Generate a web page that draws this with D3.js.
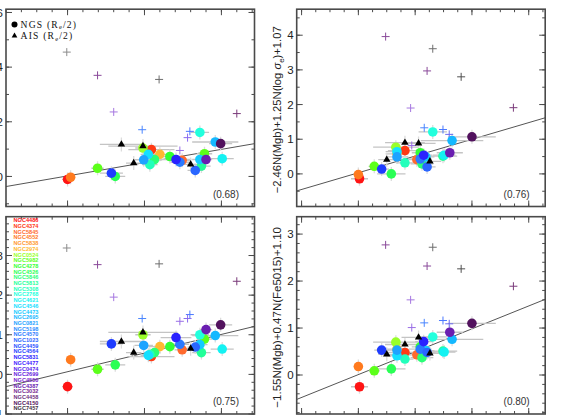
<!DOCTYPE html>
<html><head><meta charset="utf-8">
<script src="https://cdn.jsdelivr.net/npm/d3@7"></script>
<style>body{margin:0;background:#fff}svg{display:block}</style>
</head><body>
<svg id="c" width="581" height="415"></svg>
<script>
// ---------------- DATA ----------------
const names = ["NGC4486","NGC4374","NGC5845","NGC4552","NGC5838","NGC2974","NGC0524","NGC5982","NGC4278","NGC4526","NGC5846","NGC5813","NGC5308","NGC2768","NGC4621","NGC4546","NGC4473","NGC2695","NGC0821","NGC5198","NGC4570","NGC1023","NGC4459","NGC4564","NGC5831","NGC4477","NGC0474","NGC2699","NGC4550","NGC4387","NGC3032","NGC4458","NGC4150","NGC7457"];

// left column (shared x) : NGS circles
const leftCircX    = [0.00,0.04,0.39,0.57,0.62,0.98,1.09,1.05,0.99,1.07,1.13,1.20,1.33,1.41,1.49,1.46,1.72,1.72,1.78,1.80,1.74,1.66,1.92,1.99,2.01];
const leftCircXErr = [0.07,0.05,0.08,0.15,0.13,0.10,0.30,0.10,0.12,0.10,0.08,0.15,0.12,0.20,0.10,0.12,0.12,0.10,0.10,0.08,0.12,0.10,0.30,0.15,0.15];
const leftCircGal  = [0,3,7,23,9,6,1,15,18,12,10,5,8,24,2,20,13,16,7,29,11,21,17,32,14];
const tlCircY      = [-0.11,-0.03,0.30,0.12,0.00,1.04,0.98,0.81,0.61,0.43,0.62,0.81,0.73,0.62,0.59,0.52,1.61,0.62,0.83,0.62,0.38,0.22,1.26,1.20,0.65];
const blCircY      = [-0.31,0.37,0.13,0.77,0.24,1.00,0.45,0.48,0.73,0.50,0.55,0.70,0.70,0.93,0.62,0.76,1.00,0.75,0.89,1.13,0.55,0.69,0.98,1.25,0.64];
// left column : AIS triangles
const leftTriX     = [0.70,0.98,0.86,1.60];
const leftTriXErr  = [0.28,0.45,0.10,0.15];
const tlTriY       = [1.17,1.11,0.49,0.44];
const blTriY       = [0.83,1.06,0.55,0.65];
// left column : crosses
const leftCrossX   = [-0.01,0.39,0.60,1.19,0.97,1.46,1.59,1.56,2.20];
const tlCrossY     = [4.55,3.70,2.36,3.55,1.71,0.95,1.65,1.42,2.30];
const blCrossY     = [3.19,2.77,1.95,2.79,1.41,1.34,1.51,1.41,2.35];

// right column (shared x) : NGS circles
const rightCircX    = [0.00,0.02,0.28,0.41,0.58,0.66,0.68,0.68,0.82,0.82,1.03,1.09,1.09,1.15,1.19,1.12,1.21,1.31,1.49,1.51,1.65,1.61,2.00,0.68];
const rightCircXErr = [0.08,0.15,0.10,0.13,0.25,0.40,0.20,0.20,0.30,0.15,0.15,0.15,0.20,0.15,0.15,0.20,0.15,0.25,0.25,0.20,0.55,0.23,0.42,0.20];
const rightCircGal  = [3,0,7,23,9,6,18,15,1,12,2,8,20,24,16,10,21,13,11,14,17,29,32,5];
const trCircY       = [-0.02,-0.14,0.22,0.14,0.00,0.77,0.49,0.64,0.67,0.32,0.41,0.61,0.43,0.54,0.49,0.29,0.20,1.21,0.51,0.54,0.96,0.61,1.07,0.58];
const brCircY       = [0.18,-0.25,0.09,0.53,0.13,0.70,0.53,0.41,0.48,0.34,0.43,0.60,0.55,0.71,0.52,0.37,0.48,0.81,0.51,0.49,0.76,0.91,1.10,0.55];
// right column : AIS triangles
const rightTriX     = [0.50,0.82,1.06,1.26];
const rightTriXErr  = [0.15,0.35,0.30,0.20];
const trTriY        = [0.41,0.90,0.88,0.36];
const brTriY        = [0.44,0.65,0.80,0.46];
// right column : crosses
const rightCrossX   = [0.48,1.31,1.21,1.81,0.92,2.73,1.16,1.49,1.60,0.94];
const trCrossY      = [3.96,3.61,2.97,2.80,1.90,1.91,1.33,1.28,1.14,0.82];
const brCrossY      = [2.77,2.72,2.32,2.26,1.60,1.89,1.11,1.16,1.09,1.01];

// fitted lines (slope, intercept) and correlation labels: TL, TR, BL, BR
const fitSlope     = [0.486,0.482,0.471,0.487];
const fitIntercept = [0.019,0.033,0.067,0.009];
const corrLabels   = ["(0.68)","(0.76)","(0.75)","(0.80)"];

// tick values
const leftXMajor  = [0,1,2];
const rightXMajor = [-1,0,1,2,3];
const tlYMajor = [0,2,4,6];
const trYMajor = [0,1,2,3,4];
const blYMajor = [-1,0,1,2,3];
const brYMajor = [0,1,2,3];

// ---------------- STYLE ----------------
const galColors = ["#ff1414","#ff3a14","#ff6a2e","#ff7a1e","#ff9a30","#ffb830","#99ff2a","#5cff1a","#33ff33","#2aff55","#2aff77","#22ff99","#22ffbb","#22ffdd","#14f2f2","#14e0ff","#14cbff","#14b8ff","#1ea3ff","#2a8fff","#2a7aff","#2a66ff","#2a52ff","#1e3cff","#2a22ff","#4422ff","#5522ee","#6622dd","#7722cc","#6a1eb0","#772a91","#70307f","#52125e","#40303f"];
const leftCrossCol  = ["#8c8c8c","#8a4a9a","#a678e0","#6e6e6e","#4a86ff","#9a6ee6","#4a78ff","#8a6af0","#7a3a7a"];
const rightCrossCol = ["#8a4a9a","#6e6e6e","#8a4a9a","#505050","#a678e0","#7a3a7a","#4a86ff","#4a78ff","#6a6af0","#9a6ee6"];

const PW = 248.5, PH = 197.3;
const frameCol = "#4a4a4a";
const FONT = "'Liberation Sans', Arial, sans-serif";

const svg = d3.select("#c");

const panels = [
  {x0:6,     y0:9.2,   xd:[-0.8,2.43],   yd:[-1.1,6.12], xMaj:leftXMajor,  xMinStep:0.2,  yMaj:tlYMajor, yMinStep:1,
   cx:leftCircX, cxe:leftCircXErr, cg:leftCircGal, cy:tlCircY, tx:leftTriX, txe:leftTriXErr, ty:tlTriY,
   kx:leftCrossX, ky:tlCrossY, kc:leftCrossCol, fi:0, legend:true},
  {x0:296.7, y0:9.2,   xd:[-1.086,3.29], yd:[-0.94,4.75], xMaj:rightXMajor, xMinStep:0.25, yMaj:trYMajor, yMinStep:0.5,
   cx:rightCircX, cxe:rightCircXErr, cg:rightCircGal, cy:trCircY, tx:rightTriX, txe:rightTriXErr, ty:trTriY,
   kx:rightCrossX, ky:trCrossY, kc:rightCrossCol, fi:1, tsize:11.2,
   title:[["−2.46N(Mgb)+1.25N(log ",null],["σ","it"],["e","sub"],[")+1.07","up"]]},
  {x0:6,     y0:216.7, xd:[-0.8,2.43],   yd:[-1.0,3.98], xMaj:leftXMajor,  xMinStep:0.2,  yMaj:blYMajor, yMinStep:0.2,
   cx:leftCircX, cxe:leftCircXErr, cg:leftCircGal, cy:blCircY, tx:leftTriX, txe:leftTriXErr, ty:blTriY,
   kx:leftCrossX, ky:blCrossY, kc:leftCrossCol, fi:2, names:true},
  {x0:296.7, y0:216.7, xd:[-1.086,3.29], yd:[-0.83,3.37], xMaj:rightXMajor, xMinStep:0.25, yMaj:brYMajor, yMinStep:0.2,
   cx:rightCircX, cxe:rightCircXErr, cg:rightCircGal, cy:brCircY, tx:rightTriX, txe:rightTriXErr, ty:brTriY,
   kx:rightCrossX, ky:brCrossY, kc:rightCrossCol, fi:3, tsize:11.5,
   title:[["−1.55N(Mgb)+0.47N(Fe5015)+1.10",null]]}
];

panels.forEach((p, pi) => {
  const g = svg.append("g").attr("transform", `translate(${p.x0},${p.y0})`);
  const xs = d3.scaleLinear().domain(p.xd).range([0, PW]);
  const ys = d3.scaleLinear().domain(p.yd).range([PH, 0]);
  const clipId = "clip" + pi;
  g.append("clipPath").attr("id", clipId).append("rect").attr("width", PW).attr("height", PH);
  const inner = g.append("g").attr("clip-path", `url(#${clipId})`);

  // fit line
  const sl = fitSlope[p.fi], ic = fitIntercept[p.fi];
  inner.append("line")
    .attr("x1", xs(p.xd[0])).attr("y1", ys(sl*p.xd[0]+ic))
    .attr("x2", xs(p.xd[1])).attr("y2", ys(sl*p.xd[1]+ic))
    .attr("stroke", "#555").attr("stroke-width", 1);

  // error bars
  const circ = p.cx.map((x,i)=>({x, xe:p.cxe[i], y:p.cy[i], g:p.cg[i]}));
  const tri  = p.tx.map((x,i)=>({x, xe:p.txe[i], y:p.ty[i]}));
  const eb = inner.append("g").attr("stroke", "#c4c4c4").attr("stroke-width", 1.3);
  circ.concat(tri).forEach(d => {
    eb.append("line").attr("x1", xs(d.x-d.xe)).attr("x2", xs(d.x+d.xe)).attr("y1", ys(d.y)).attr("y2", ys(d.y));
    eb.append("line").attr("x1", xs(d.x)).attr("x2", xs(d.x)).attr("y1", ys(d.y)-7).attr("y2", ys(d.y)+7)
      .attr("stroke", "#dcdcdc");
  });

  // crosses
  const cr = inner.append("g").attr("stroke-width", 1);
  p.kx.forEach((x,i) => {
    const cxp = xs(x), cyp = ys(p.ky[i]);
    cr.append("path").attr("d", `M${cxp-4},${cyp}H${cxp+4}M${cxp},${cyp-4}V${cyp+4}`)
      .attr("stroke", p.kc[i]).attr("fill", "none");
  });

  // circles, drawn in galaxy order
  circ.slice().sort((a,b)=>a.g-b.g).forEach(d => {
    inner.append("circle").attr("cx", xs(d.x)).attr("cy", ys(d.y)).attr("r", 4.8).attr("fill", galColors[d.g]);
  });

  // triangles
  const triSym = d3.symbol().type(d3.symbolTriangle).size(24);
  tri.forEach(d => {
    inner.append("path").attr("d", triSym()).attr("transform", `translate(${xs(d.x)},${ys(d.y)})`).attr("fill", "#000");
  });

  // frame
  g.append("rect").attr("width", PW).attr("height", PH).attr("fill", "none")
    .attr("stroke", frameCol).attr("stroke-width", 1.6);

  // ticks
  const tk = g.append("g").attr("stroke", frameCol).attr("stroke-width", 1);
  const xMin = d3.range(Math.ceil(p.xd[0]/p.xMinStep - 1e-6), Math.floor(p.xd[1]/p.xMinStep + 1e-6)+1).map(k=>k*p.xMinStep);
  const yMin = d3.range(Math.ceil(p.yd[0]/p.yMinStep - 1e-6), Math.floor(p.yd[1]/p.yMinStep + 1e-6)+1).map(k=>k*p.yMinStep);
  const tx = (v, len) => { const X = xs(v);
    tk.append("line").attr("x1", X).attr("x2", X).attr("y1", PH).attr("y2", PH-len);
    tk.append("line").attr("x1", X).attr("x2", X).attr("y1", 0).attr("y2", len); };
  const ty = (v, len) => { const Y = ys(v);
    tk.append("line").attr("y1", Y).attr("y2", Y).attr("x1", 0).attr("x2", len);
    tk.append("line").attr("y1", Y).attr("y2", Y).attr("x1", PW).attr("x2", PW-len); };
  xMin.forEach(v => tx(v, 3)); p.xMaj.forEach(v => tx(v, 6));
  yMin.forEach(v => ty(v, 3)); p.yMaj.forEach(v => ty(v, 6));

  // y tick labels
  g.selectAll(null).data(p.yMaj).enter().append("text")
    .attr("x", -3).attr("y", d => ys(d)).attr("dy", "0.36em")
    .attr("text-anchor", "end").attr("font-family", FONT).attr("font-size", 11.5).attr("fill", "#222")
    .text(d => d < 0 ? "−" + Math.abs(d) : d);

  // correlation label
  g.append("text").attr("x", PW - 15.5).attr("y", PH - 8.5).attr("text-anchor", "end")
    .attr("font-family", FONT).attr("font-size", 10).attr("fill", "#333").text(corrLabels[p.fi]);

  // y title (right column)
  if (p.title) {
    const t = g.append("text").attr("transform", `translate(-15.5,${PH/2 + 2}) rotate(-90)`)
      .attr("text-anchor", "middle").attr("font-family", FONT).attr("font-size", p.tsize).attr("fill", "#222");
    p.title.forEach(([s, kind]) => {
      const ts = t.append("tspan").text(s);
      if (kind === "it") ts.attr("font-style", "italic");
      if (kind === "sub") ts.attr("font-size", 8).attr("dy", 3);
      if (kind === "up") ts.attr("dy", -3);
    });
  }

  // legend
  if (p.legend) {
    const lg = g.append("g").attr("font-family", "'Liberation Serif', 'Times New Roman', serif").attr("font-size", 9.6).attr("fill", "#111");
    lg.append("circle").attr("cx", 8.5).attr("cy", 15.3).attr("r", 3).attr("fill", "#000");
    lg.append("path").attr("d", d3.symbol().type(d3.symbolTriangle).size(14)()).attr("transform", "translate(8.5,26.6)").attr("fill", "#000");
    [["NGS (R", 18.6], ["AIS (R", 30.2]].forEach(([lab, yy]) => {
      const t = lg.append("text").attr("x", 14.5).attr("y", yy).attr("letter-spacing", 1.2);
      t.append("tspan").text(lab);
      t.append("tspan").text("e").attr("font-size", 6.5).attr("dy", 1.5);
      t.append("tspan").text("/2)").attr("dy", -1.5);
    });
  }

  // galaxy name list
  if (p.names) {
    g.append("g").selectAll("text").data(names).enter().append("text")
      .attr("x", 7.5).attr("y", (d,i) => 3.6 + i*5.7).attr("dy", "0.36em")
      .attr("font-family", FONT).attr("font-size", 5.6).attr("font-weight", "bold")
      .attr("fill", (d,i) => galColors[i]).text(d => d);
  }
});
</script>
</body></html>
